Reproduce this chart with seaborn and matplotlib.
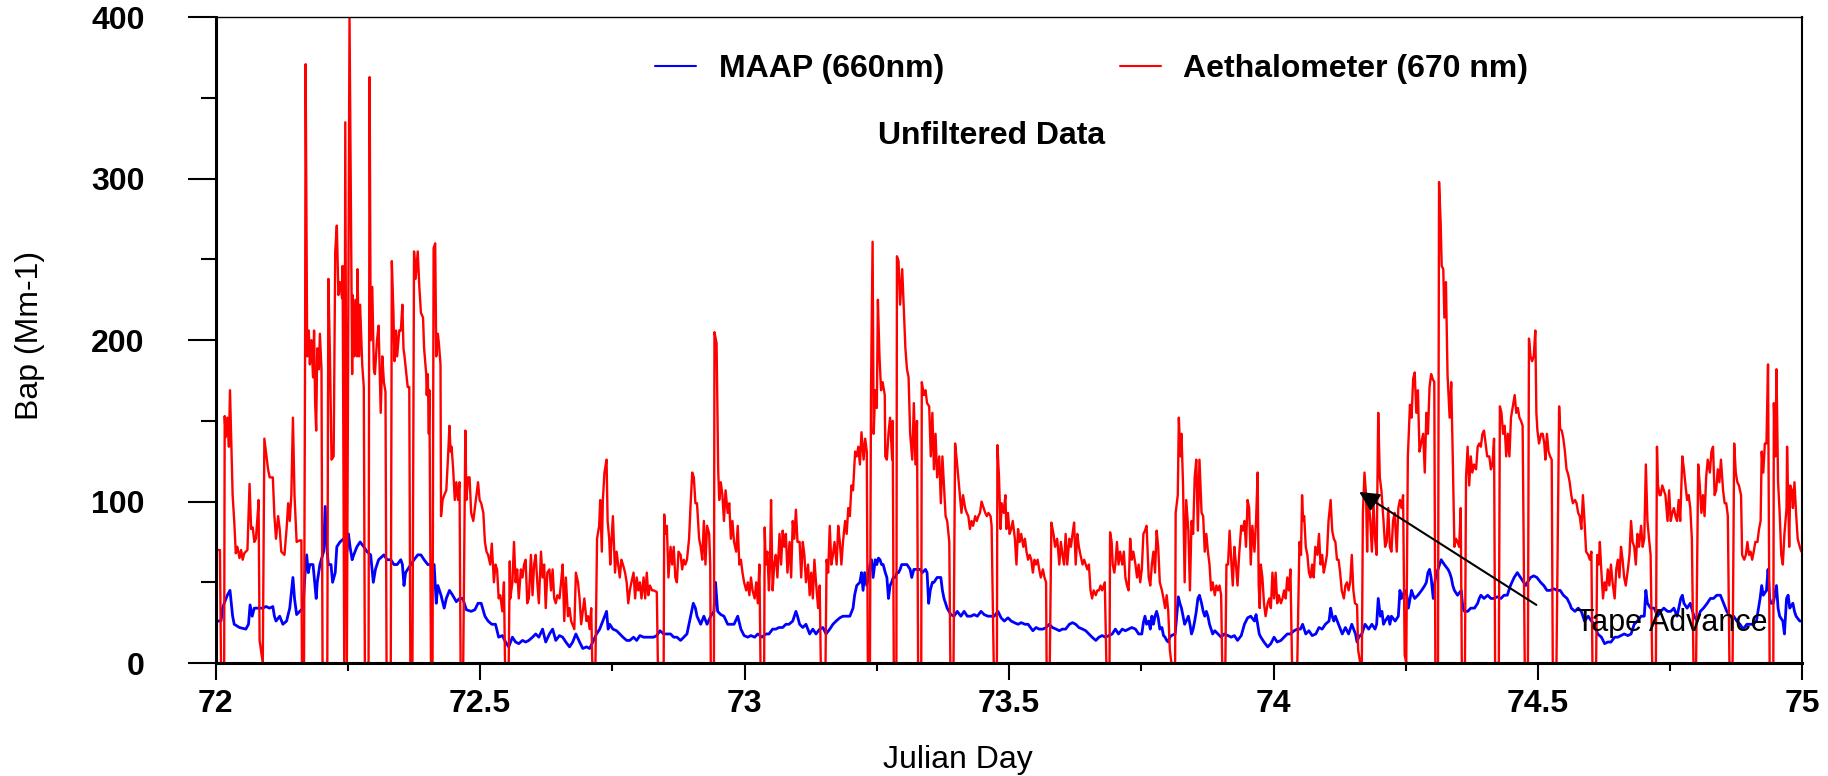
import matplotlib
matplotlib.use("Agg")
import matplotlib.pyplot as plt
from matplotlib.ticker import MultipleLocator
import pandas as pd
import seaborn as sns

# MAAP (660nm) absorption (Julian day, Mm-1)
maap_day = [
    72.001, 72.010, 72.013, 72.016, 72.022, 72.027, 72.032, 72.035, 72.045, 72.057,
    72.062, 72.065, 72.069, 72.073, 72.080, 72.089, 72.095, 72.102, 72.108, 72.111,
    72.114, 72.121, 72.127, 72.134, 72.140, 72.146, 72.149, 72.153, 72.165, 72.169,
    72.172, 72.175, 72.178, 72.184, 72.190, 72.192, 72.197, 72.204, 72.207, 72.210,
    72.213, 72.218, 72.221, 72.226, 72.229, 72.235, 72.242, 72.248, 72.251, 72.254,
    72.258, 72.261, 72.267, 72.273, 72.280, 72.286, 72.293, 72.298, 72.302, 72.308,
    72.318, 72.324, 72.331, 72.337, 72.343, 72.350, 72.353, 72.356, 72.359, 72.363,
    72.369, 72.375, 72.382, 72.388, 72.394, 72.401, 72.413, 72.417, 72.420, 72.426,
    72.432, 72.436, 72.442, 72.448, 72.455, 72.461, 72.467, 72.474, 72.483, 72.490,
    72.496, 72.502, 72.509, 72.515,
    72.522, 72.529, 72.535, 72.542, 72.548, 72.554, 72.561, 72.567, 72.573, 72.580,
    72.586, 72.592, 72.599, 72.605, 72.611, 72.618, 72.624, 72.631, 72.637, 72.643,
    72.650, 72.656, 72.662, 72.669, 72.675, 72.681, 72.688, 72.694, 72.701, 72.707,
    72.713, 72.720, 72.726, 72.732, 72.739, 72.742, 72.745, 72.751, 72.758, 72.764,
    72.770, 72.777, 72.783, 72.790, 72.796, 72.802, 72.809, 72.815, 72.821, 72.828,
    72.834, 72.840, 72.847, 72.853, 72.860, 72.866, 72.872, 72.879, 72.885, 72.891,
    72.898, 72.903, 72.907, 72.910, 72.917, 72.923, 72.929, 72.936, 72.942, 72.945,
    72.949, 72.955, 72.961, 72.968, 72.974, 72.980, 72.987, 72.993, 72.999, 73.006,
    73.012, 73.019, 73.025,
    73.033, 73.040, 73.046, 73.053, 73.059, 73.065, 73.072, 73.078, 73.084, 73.091,
    73.097, 73.100, 73.104, 73.110, 73.116, 73.123, 73.129, 73.135, 73.142, 73.148,
    73.154, 73.161, 73.167, 73.173, 73.180, 73.186, 73.193, 73.199, 73.205, 73.208,
    73.212, 73.218, 73.221, 73.224, 73.227, 73.231, 73.234, 73.237, 73.240, 73.243,
    73.247, 73.250, 73.253, 73.256, 73.259, 73.262, 73.266, 73.269, 73.272, 73.275,
    73.278, 73.281, 73.285, 73.288, 73.291, 73.294, 73.297, 73.301, 73.307, 73.313,
    73.316, 73.320, 73.326, 73.332, 73.336, 73.342, 73.345, 73.348, 73.351, 73.355,
    73.358, 73.364, 73.371, 73.374, 73.377, 73.383, 73.390, 73.396, 73.402, 73.409,
    73.415, 73.421, 73.428, 73.434, 73.440, 73.447, 73.453, 73.460, 73.466, 73.472,
    73.479, 73.485, 73.491, 73.498, 73.504, 73.510, 73.517, 73.523, 73.530, 73.536,
    73.545, 73.551, 73.557, 73.564, 73.570, 73.576, 73.582, 73.589, 73.595, 73.601,
    73.607, 73.614, 73.620, 73.626, 73.632, 73.639, 73.645, 73.651, 73.657, 73.664,
    73.670, 73.676, 73.682, 73.689, 73.695, 73.701, 73.707, 73.714, 73.720, 73.726,
    73.732, 73.739, 73.745, 73.751, 73.754, 73.757, 73.760, 73.764, 73.767, 73.770,
    73.773, 73.776, 73.779, 73.782, 73.785, 73.789, 73.792, 73.795, 73.798, 73.801,
    73.804, 73.807, 73.814, 73.817, 73.820, 73.823, 73.826, 73.829, 73.832, 73.835,
    73.839, 73.842, 73.845, 73.848, 73.851, 73.854, 73.857, 73.860, 73.864, 73.867,
    73.870, 73.873, 73.876, 73.879, 73.882, 73.885, 73.889, 73.895, 73.901, 73.907,
    73.914, 73.920, 73.926, 73.932, 73.939, 73.945, 73.951, 73.957, 73.964, 73.967,
    73.970, 73.973, 73.976, 73.982, 73.989, 73.995, 74.001, 74.007, 74.014, 74.020,
    74.026, 74.032, 74.039, 74.045, 74.051,
    74.055, 74.061, 74.067, 74.073, 74.080, 74.086, 74.092, 74.098, 74.105, 74.108,
    74.111, 74.114, 74.117, 74.123, 74.130, 74.136, 74.142, 74.148, 74.155, 74.158,
    74.161, 74.167, 74.173, 74.180, 74.186, 74.192, 74.195, 74.198, 74.202, 74.205,
    74.208, 74.211, 74.217, 74.220, 74.223, 74.230, 74.236, 74.239, 74.242, 74.248,
    74.252, 74.255, 74.261, 74.264, 74.267, 74.273, 74.280, 74.286, 74.289, 74.292,
    74.295, 74.298, 74.302, 74.305, 74.308, 74.311, 74.317, 74.323, 74.330, 74.333,
    74.336, 74.339, 74.342, 74.348, 74.355, 74.358, 74.361, 74.367, 74.373, 74.380,
    74.386, 74.389, 74.392, 74.398, 74.405, 74.411, 74.417, 74.423, 74.430, 74.436,
    74.442, 74.445, 74.448, 74.455, 74.461, 74.467, 74.473, 74.477, 74.480, 74.486,
    74.492, 74.498, 74.505, 74.511, 74.517, 74.523, 74.530, 74.536, 74.542, 74.548,
    74.555, 74.561,
    74.563, 74.570, 74.576, 74.582, 74.588, 74.595, 74.601, 74.607, 74.613, 74.620,
    74.626, 74.632, 74.638, 74.645, 74.651, 74.657, 74.663, 74.670, 74.676, 74.682,
    74.688, 74.695, 74.701, 74.704, 74.707, 74.713, 74.720, 74.726, 74.732, 74.738,
    74.745, 74.751, 74.757, 74.763, 74.770, 74.773, 74.776, 74.782, 74.788, 74.795,
    74.801, 74.807, 74.813, 74.820, 74.826, 74.832, 74.838, 74.845, 74.851, 74.857,
    74.863, 74.870, 74.876, 74.882, 74.888, 74.895, 74.901, 74.907, 74.913, 74.920,
    74.923, 74.926, 74.932, 74.935, 74.938, 74.941, 74.945, 74.951, 74.954, 74.957,
    74.963, 74.966, 74.970, 74.973, 74.976, 74.982, 74.985, 74.988, 74.995, 74.998,
]
maap_bap = [
    26, 26, 34, 37, 42, 45, 29, 24, 22, 21,
    24, 36, 29, 34, 34, 34, 35, 34, 35, 29,
    26, 29, 24, 26, 34, 53, 40, 30, 34, 56,
    67, 56, 61, 61, 40, 50, 61, 69, 97, 72,
    61, 61, 50, 56, 72, 75, 77, 69, 80, 72,
    64, 67, 72, 75, 72, 69, 67, 50, 58, 64,
    67, 64, 64, 61, 61, 64, 61, 48, 56, 58,
    61, 64, 67, 67, 64, 61, 61, 37, 48, 42,
    34, 40, 45, 42, 38, 40, 40, 33, 32, 33,
    37, 37, 29, 26,
    24, 24, 16, 17, 13, 10, 16, 13, 12, 14,
    13, 14, 16, 18, 16, 21, 13, 18, 21, 14,
    17, 16, 13, 10, 13, 18, 13, 9, 10, 9,
    13, 18, 21, 26, 32, 21, 24, 21, 20, 18,
    16, 14, 14, 16, 14, 17, 16, 16, 16, 16,
    17, 20, 18, 18, 18, 16, 16, 14, 16, 18,
    29, 37, 34, 29, 24, 29, 24, 29, 32, 50,
    32, 30, 29, 24, 24, 24, 29, 21, 17, 16,
    17, 16, 18,
    16, 18, 18, 21, 21, 22, 22, 24, 24, 26,
    32, 29, 24, 22, 24, 18, 21, 18, 21, 22,
    18, 21, 24, 26, 28, 29, 29, 29, 34, 42,
    48, 50, 56, 45, 56, 48, 53, 61, 64, 53,
    64, 61, 65, 64, 61, 61, 56, 53, 40, 48,
    50, 53, 53, 56, 56, 58, 61, 61, 61, 58,
    53, 58, 58, 58, 56, 58, 56, 37, 45, 50,
    50, 53, 53, 45, 40, 34, 30, 29, 32, 29,
    32, 29, 29, 30, 29, 32, 30, 29, 29, 29,
    32, 28, 26, 28, 26, 25, 24, 25, 24, 24,
    20, 22, 21, 21, 22, 24, 22, 21, 20, 21,
    21, 24, 25, 24, 22, 21, 20, 18, 16, 14,
    16, 17, 16, 17, 18, 21, 18, 21, 20, 21,
    22, 21, 18, 18, 25, 29, 24, 26, 21, 29,
    24, 29, 32, 28, 21, 22, 17, 16, 14, 13,
    16, 17, 18, 29, 41, 37, 34, 29, 24, 26,
    29, 24, 18, 21, 26, 32, 40, 42, 37, 32,
    29, 32, 29, 24, 21, 18, 20, 18, 16, 18,
    17, 16, 17, 14, 17, 24, 28, 29, 26, 30,
    24, 18, 16, 13, 10, 12, 16, 13, 14, 16,
    18, 18, 20, 21, 21,
    24, 18, 20, 17, 18, 22, 21, 24, 26, 34,
    29, 26, 29, 24, 18, 22, 18, 24, 18, 13,
    16, 18, 24, 21, 24, 21, 24, 40, 29, 32,
    24, 26, 29, 24, 29, 26, 29, 45, 40, 45,
    42, 34, 45, 42, 40, 42, 45, 48, 50, 56,
    58, 53, 40, 50, 56, 58, 64, 61, 58, 56,
    53, 48, 45, 42, 45, 34, 32, 32, 34, 34,
    37, 40, 42, 40, 42, 40, 40, 41, 40, 42,
    42, 45, 48, 53, 56, 53, 50, 48, 50, 53,
    54, 53, 50, 48, 45, 45, 46, 45, 45, 42,
    40, 36,
    34, 32, 34, 32, 26, 29, 26, 24, 18, 16,
    12, 13, 13, 16, 16, 17, 18, 17, 18, 24,
    26, 29, 29, 45, 37, 34, 34, 29, 32, 34,
    32, 32, 34, 29, 40, 42, 37, 34, 37, 29,
    26, 32, 34, 37, 40, 40, 42, 42, 37, 32,
    29, 29, 26, 24, 21, 24, 24, 24, 26, 40,
    48, 42, 45, 58, 40, 37, 37, 48, 34, 29,
    26, 18, 40, 42, 34, 37, 32, 29, 26, 26,
]

# Aethalometer (670 nm) absorption, zeros are the tape-advance dropouts
aeth_day = [
    72.001, 72.008, 72.010, 72.016, 72.017, 72.019, 72.022, 72.025, 72.027, 72.029,
    72.032, 72.035, 72.038, 72.041, 72.045, 72.048, 72.051, 72.054, 72.060, 72.064,
    72.067, 72.070, 72.073, 72.076, 72.080, 72.081, 72.083, 72.089, 72.092, 72.095,
    72.099, 72.102, 72.108, 72.111, 72.114, 72.118, 72.121, 72.124, 72.130, 72.134,
    72.137, 72.140, 72.143, 72.146, 72.149, 72.153, 72.159, 72.162, 72.163, 72.167,
    72.169, 72.170, 72.173, 72.176, 72.178, 72.181, 72.184, 72.186, 72.188, 72.190,
    72.192, 72.195, 72.197, 72.200, 72.202, 72.211, 72.213, 72.216, 72.219, 72.223,
    72.226, 72.229, 72.232, 72.235, 72.239, 72.240, 72.243, 72.245, 72.248, 72.253,
    72.256, 72.258, 72.259, 72.262, 72.264, 72.267, 72.268, 72.271, 72.273, 72.277,
    72.280, 72.282, 72.289, 72.291, 72.293, 72.296, 72.299, 72.301, 72.305, 72.308,
    72.312, 72.315, 72.318, 72.321, 72.323, 72.331, 72.333, 72.336, 72.338, 72.341,
    72.343, 72.347, 72.350, 72.353, 72.355, 72.357, 72.363, 72.366, 72.368, 72.372,
    72.375, 72.378, 72.382, 72.385, 72.388, 72.392, 72.394, 72.398, 72.399, 72.401,
    72.403, 72.404, 72.407, 72.410, 72.412, 72.415, 72.417, 72.420, 72.422, 72.425,
    72.426, 72.429, 72.432, 72.436, 72.439, 72.442, 72.444, 72.446, 72.449, 72.452,
    72.455, 72.458, 72.461, 72.463, 72.468, 72.472, 72.474, 72.477, 72.480, 72.483,
    72.487, 72.490, 72.493, 72.496, 72.499, 72.502, 72.506, 72.509, 72.512, 72.515,
    72.519, 72.522, 72.526, 72.529, 72.532, 72.535, 72.538, 72.542, 72.545, 72.547,
    72.554, 72.556, 72.557, 72.561, 72.564, 72.567, 72.570, 72.573, 72.577, 72.580,
    72.583, 72.586, 72.589, 72.592, 72.596, 72.599, 72.602, 72.605, 72.608, 72.611,
    72.615, 72.618, 72.621, 72.624, 72.627, 72.631, 72.634, 72.637, 72.640, 72.643,
    72.646, 72.650, 72.653, 72.656, 72.659, 72.662, 72.666, 72.669, 72.672, 72.678,
    72.681, 72.685, 72.688, 72.691, 72.694, 72.697, 72.701, 72.704, 72.707, 72.710,
    72.712, 72.718, 72.721, 72.725, 72.727, 72.730, 72.732, 72.735, 72.739, 72.741,
    72.744, 72.746, 72.748, 72.751, 72.755, 72.758, 72.761, 72.764, 72.767, 72.770,
    72.774, 72.777, 72.780, 72.783, 72.786, 72.790, 72.793, 72.796, 72.799, 72.802,
    72.805, 72.809, 72.812, 72.815, 72.818, 72.821, 72.825, 72.828, 72.834, 72.836,
    72.847, 72.848, 72.850, 72.853, 72.856, 72.860, 72.863, 72.866, 72.869, 72.872,
    72.875, 72.879, 72.882, 72.885, 72.888, 72.891, 72.895, 72.898, 72.901, 72.904,
    72.907, 72.910, 72.914, 72.917, 72.920, 72.923, 72.926, 72.929, 72.933, 72.935,
    72.936, 72.942, 72.943, 72.947, 72.950, 72.952, 72.955, 72.958, 72.961, 72.964,
    72.968, 72.971, 72.974, 72.977, 72.980, 72.984, 72.987, 72.990, 72.993, 72.996,
    72.999, 73.003, 73.006, 73.009, 73.012, 73.015, 73.019, 73.022, 73.025, 73.028,
    73.030,
    73.037, 73.038, 73.040, 73.043, 73.046, 73.048, 73.050, 73.053, 73.056, 73.059,
    73.062, 73.066, 73.069, 73.072, 73.075, 73.078, 73.081, 73.085, 73.088, 73.091,
    73.094, 73.097, 73.100, 73.104, 73.107, 73.110, 73.113, 73.116, 73.120, 73.123,
    73.126, 73.129, 73.132, 73.135, 73.139, 73.142, 73.144, 73.153, 73.155, 73.158,
    73.161, 73.164, 73.167, 73.170, 73.174, 73.177, 73.180, 73.183, 73.186, 73.190,
    73.193, 73.196, 73.199, 73.202, 73.205, 73.209, 73.212, 73.215, 73.218, 73.221,
    73.225, 73.228, 73.231, 73.233, 73.237, 73.239, 73.242, 73.244, 73.247, 73.250,
    73.252, 73.255, 73.258, 73.261, 73.265, 73.266, 73.269, 73.272, 73.275, 73.279,
    73.280, 73.282, 73.287, 73.288, 73.291, 73.294, 73.298, 73.301, 73.304, 73.307,
    73.310, 73.313, 73.317, 73.320, 73.323, 73.326, 73.328, 73.334, 73.335, 73.339,
    73.342, 73.345, 73.349, 73.352, 73.355, 73.358, 73.361, 73.364, 73.368, 73.371,
    73.374, 73.377, 73.380, 73.383, 73.387, 73.389, 73.395, 73.398, 73.401, 73.404,
    73.407, 73.410, 73.413, 73.417, 73.420, 73.423, 73.426, 73.429, 73.432, 73.436,
    73.439, 73.442, 73.445, 73.448, 73.452, 73.455, 73.458, 73.461, 73.465, 73.467,
    73.471, 73.477, 73.478, 73.481, 73.484, 73.486, 73.490, 73.493, 73.495, 73.498,
    73.501, 73.504, 73.507, 73.511, 73.514, 73.517, 73.520, 73.523, 73.527, 73.530,
    73.533, 73.536,
    73.539, 73.542, 73.545, 73.548, 73.551, 73.554, 73.557, 73.560, 73.564, 73.567,
    73.570, 73.571, 73.577, 73.580, 73.584, 73.587, 73.591, 73.595, 73.598, 73.601,
    73.604, 73.607, 73.610, 73.614, 73.617, 73.620, 73.623, 73.626, 73.629, 73.632,
    73.635, 73.639, 73.642, 73.645, 73.648, 73.651, 73.654, 73.657, 73.660, 73.664,
    73.667, 73.670, 73.673, 73.676, 73.681, 73.684, 73.690, 73.691, 73.694, 73.696,
    73.699, 73.701, 73.704, 73.707, 73.710, 73.714, 73.717, 73.720, 73.723, 73.726,
    73.729, 73.732, 73.735, 73.739, 73.742, 73.745, 73.748, 73.751, 73.754, 73.757,
    73.760, 73.764, 73.767, 73.770, 73.773, 73.776, 73.779, 73.782, 73.785, 73.789,
    73.792, 73.795, 73.798, 73.801, 73.804, 73.807, 73.814, 73.815, 73.819, 73.821,
    73.824, 73.826, 73.829, 73.832, 73.835, 73.839, 73.842, 73.845, 73.848, 73.851,
    73.854, 73.857, 73.860, 73.864, 73.867, 73.870, 73.873, 73.876, 73.879, 73.882,
    73.885, 73.889, 73.892, 73.895, 73.898, 73.901, 73.903, 73.909, 73.911, 73.914,
    73.917, 73.920, 73.923, 73.926, 73.929, 73.932, 73.935, 73.939, 73.942, 73.945,
    73.948, 73.951, 73.954, 73.957, 73.960, 73.964, 73.967, 73.970, 73.972, 73.974,
    73.976, 73.979, 73.982, 73.985, 73.989, 73.992, 73.995, 73.998, 74.001, 74.004,
    74.007, 74.010, 74.014, 74.017, 74.020, 74.023, 74.026, 74.029, 74.032, 74.035,
    74.045,
    74.049, 74.052, 74.054, 74.056, 74.058, 74.061, 74.064, 74.067, 74.070, 74.073,
    74.076, 74.079, 74.083, 74.086, 74.089, 74.092, 74.095, 74.098, 74.101, 74.104,
    74.108, 74.111, 74.114, 74.117, 74.120, 74.123, 74.126, 74.129, 74.133, 74.136,
    74.139, 74.142, 74.145, 74.148, 74.151, 74.154, 74.158, 74.160, 74.164, 74.167,
    74.169, 74.172, 74.175, 74.177, 74.179, 74.183, 74.186, 74.189, 74.192, 74.195,
    74.198, 74.201, 74.204, 74.208, 74.211, 74.214, 74.217, 74.220, 74.223, 74.226,
    74.229, 74.233, 74.236, 74.239, 74.242, 74.245, 74.248, 74.251, 74.254, 74.258,
    74.261, 74.264, 74.267, 74.270, 74.273, 74.276, 74.279, 74.283, 74.286, 74.289,
    74.292, 74.295, 74.298, 74.301, 74.304, 74.306, 74.311, 74.313, 74.316, 74.318,
    74.321, 74.323, 74.326, 74.329, 74.333, 74.336, 74.339, 74.342, 74.345, 74.348,
    74.351, 74.354, 74.356, 74.362, 74.364, 74.367, 74.370, 74.373, 74.376, 74.379,
    74.383, 74.386, 74.389, 74.392, 74.395, 74.398, 74.401, 74.404, 74.408, 74.411,
    74.414, 74.417, 74.419, 74.426, 74.428, 74.431, 74.434, 74.437, 74.440, 74.443,
    74.446, 74.449, 74.453, 74.456, 74.459, 74.462, 74.465, 74.468, 74.471, 74.475,
    74.481, 74.483, 74.486, 74.489, 74.492, 74.495, 74.497, 74.499, 74.502, 74.506,
    74.509, 74.512, 74.514, 74.517, 74.520, 74.523, 74.526, 74.528, 74.535,
    74.540, 74.542, 74.545, 74.548, 74.551, 74.554, 74.557, 74.560, 74.563, 74.566,
    74.570, 74.573, 74.576, 74.579, 74.582, 74.585, 74.588, 74.591, 74.595, 74.598,
    74.601, 74.603, 74.610, 74.612, 74.615, 74.617, 74.620, 74.623, 74.626, 74.629,
    74.632, 74.635, 74.638, 74.641, 74.645, 74.648, 74.651, 74.654, 74.657, 74.660,
    74.663, 74.666, 74.670, 74.673, 74.676, 74.679, 74.682, 74.685, 74.688, 74.691,
    74.695, 74.698, 74.701, 74.704, 74.707, 74.710, 74.713, 74.716, 74.723, 74.725,
    74.727, 74.730, 74.732, 74.735, 74.738, 74.741, 74.745, 74.748, 74.751, 74.754,
    74.757, 74.760, 74.763, 74.766, 74.769, 74.773, 74.776, 74.779, 74.782, 74.785,
    74.788, 74.791, 74.794, 74.799, 74.803, 74.806, 74.809, 74.812, 74.815, 74.818,
    74.821, 74.825, 74.828, 74.831, 74.834, 74.837, 74.840, 74.843, 74.846, 74.850,
    74.853, 74.856, 74.859, 74.862, 74.868, 74.871, 74.874, 74.877, 74.880, 74.884,
    74.886, 74.890, 74.893, 74.896, 74.899, 74.902, 74.905, 74.908, 74.911, 74.915,
    74.918, 74.921, 74.923, 74.926, 74.929, 74.932, 74.935, 74.938, 74.945, 74.946,
    74.949, 74.951, 74.954, 74.957, 74.960, 74.963, 74.966, 74.970, 74.971, 74.975,
    74.977, 74.980, 74.982, 74.985, 74.988, 74.991, 74.995, 74.998,
]
aeth_bap = [
    70, 70, 0, 0, 153, 140, 152, 134, 169, 144,
    104, 88, 68, 72, 65, 70, 64, 68, 70, 111,
    83, 84, 75, 77, 95, 101, 14, 0, 139, 131,
    120, 115, 115, 91, 77, 91, 83, 69, 67, 83,
    99, 88, 104, 152, 104, 75, 76, 76, 0, 0,
    195, 371, 190, 206, 185, 200, 177, 206, 161, 144,
    195, 182, 204, 182, 0, 0, 238, 190, 126, 128,
    255, 271, 228, 236, 226, 246, 0, 335, 0, 400,
    265, 179, 228, 190, 225, 190, 244, 190, 222, 185,
    171, 0, 0, 363, 200, 233, 182, 179, 200, 209,
    155, 190, 174, 168, 0, 0, 249, 217, 187, 206,
    190, 206, 206, 222, 195, 190, 171, 171, 0, 0,
    255, 238, 255, 233, 217, 214, 195, 179, 166, 179,
    142, 169, 0, 0, 257, 260, 190, 204, 198, 185,
    91, 101, 104, 107, 126, 147, 131, 134, 120, 101,
    112, 101, 112, 0, 0, 144, 101, 115, 115, 93,
    88, 96, 104, 112, 101, 99, 93, 75, 69, 67,
    61, 74, 50, 61, 58, 40, 42, 32, 50, 0,
    0, 63, 40, 50, 75, 50, 58, 40, 58, 53,
    61, 64, 37, 40, 67, 42, 61, 67, 50, 37,
    69, 53, 61, 34, 56, 58, 45, 58, 40, 37,
    42, 40, 50, 61, 26, 53, 29, 34, 26, 21,
    56, 50, 40, 24, 32, 40, 26, 29, 21, 34,
    0, 0, 77, 85, 101, 69, 101, 118, 126, 88,
    77, 61, 74, 91, 56, 69, 61, 53, 64, 61,
    56, 50, 37, 45, 50, 56, 40, 53, 45, 50,
    40, 53, 40, 56, 42, 48, 45, 45, 44, 0,
    0, 92, 80, 85, 53, 72, 61, 72, 53, 50,
    69, 67, 58, 64, 61, 64, 77, 99, 118, 115,
    99, 99, 77, 72, 64, 88, 61, 85, 80, 61,
    0, 0, 205, 198, 120, 101, 112, 104, 88, 107,
    93, 99, 77, 88, 75, 69, 85, 61, 64, 56,
    50, 45, 50, 42, 53, 45, 40, 50, 37, 61,
    0,
    0, 84, 61, 69, 45, 61, 101, 45, 61, 67,
    53, 80, 61, 82, 72, 80, 56, 75, 53, 88,
    77, 95, 75, 75, 53, 75, 67, 50, 61, 42,
    56, 40, 64, 50, 34, 48, 0, 0, 64, 56,
    85, 61, 67, 75, 61, 85, 75, 61, 75, 88,
    80, 96, 91, 110, 107, 131, 128, 134, 123, 143,
    126, 139, 131, 0, 0, 169, 261, 142, 169, 158,
    225, 190, 169, 174, 166, 128, 126, 142, 152, 126,
    150, 0, 0, 252, 249, 222, 244, 220, 195, 182,
    177, 142, 126, 161, 123, 150, 0, 0, 174, 166,
    169, 161, 159, 128, 155, 120, 142, 115, 128, 99,
    128, 110, 91, 88, 75, 0, 0, 136, 126, 115,
    104, 93, 104, 96, 93, 91, 83, 88, 85, 91,
    88, 91, 93, 100, 96, 93, 91, 93, 91, 85,
    0, 0, 135, 115, 83, 99, 93, 104, 83, 93,
    80, 83, 88, 77, 61, 83, 75, 80, 72, 77,
    69, 64,
    67, 64, 56, 64, 61, 64, 58, 53, 58, 53,
    50, 0, 0, 87, 80, 72, 77, 61, 75, 67,
    61, 80, 61, 77, 72, 80, 87, 61, 80, 72,
    67, 61, 64, 61, 58, 61, 45, 40, 45, 42,
    45, 45, 48, 45, 50, 0, 0, 81, 75, 61,
    56, 61, 75, 61, 69, 61, 69, 53, 48, 45,
    77, 64, 69, 61, 53, 61, 50, 58, 80, 82,
    85, 53, 48, 61, 69, 56, 82, 72, 50, 45,
    40, 34, 42, 32, 8, 0, 0, 93, 104, 152,
    128, 142, 110, 50, 101, 82, 45, 88, 80, 115,
    126, 82, 126, 93, 91, 69, 80, 69, 61, 45,
    50, 42, 48, 45, 48, 42, 0, 0, 61, 61,
    82, 64, 48, 72, 61, 48, 67, 85, 82, 88,
    72, 101, 96, 61, 85, 69, 88, 118, 48, 34,
    61, 53, 37, 29, 37, 40, 34, 56, 40, 56,
    37, 42, 37, 40, 45, 40, 53, 45, 58, 0,
    0,
    75, 67, 104, 88, 91, 72, 67, 56, 53, 61,
    53, 72, 67, 80, 61, 67, 56, 61, 67, 88,
    101, 82, 77, 75, 64, 64, 56, 45, 40, 48,
    50, 45, 50, 67, 45, 37, 36, 8, 0, 0,
    93, 118, 104, 69, 104, 88, 69, 99, 77, 67,
    155, 115, 107, 88, 72, 75, 96, 72, 69, 88,
    93, 69, 96, 101, 96, 104, 5, 0, 128, 160,
    152, 176, 180, 155, 169, 131, 136, 142, 118, 155,
    142, 171, 179, 176, 174, 0, 0, 298, 273, 246,
    244, 214, 236, 179, 152, 174, 126, 72, 77, 75,
    72, 96, 0, 0, 115, 134, 110, 128, 118, 123,
    120, 134, 136, 134, 142, 144, 136, 128, 128, 120,
    123, 139, 0, 0, 159, 155, 142, 147, 128, 142,
    128, 152, 160, 166, 155, 158, 152, 150, 147, 0,
    0, 201, 190, 187, 190, 206, 155, 144, 136, 142,
    142, 136, 126, 142, 131, 128, 126, 0, 0,
    159, 145, 144, 139, 131, 120, 117, 112, 104, 99,
    101, 99, 93, 91, 83, 104, 88, 69, 67, 64,
    69, 0, 0, 67, 61, 75, 56, 40, 50, 45,
    58, 48, 61, 50, 40, 58, 64, 53, 72, 64,
    53, 48, 58, 67, 88, 75, 72, 61, 80, 72,
    85, 72, 77, 123, 88, 77, 67, 0, 0, 134,
    110, 104, 104, 110, 107, 104, 88, 107, 88, 93,
    96, 91, 88, 101, 88, 128, 120, 110, 101, 104,
    96, 77, 0, 0, 123, 110, 93, 104, 91, 115,
    126, 118, 131, 134, 104, 107, 120, 112, 126, 107,
    99, 99, 91, 0, 0, 136, 118, 112, 110, 104,
    67, 64, 67, 75, 67, 69, 64, 69, 75, 75,
    83, 88, 131, 118, 136, 136, 185, 0, 0, 161,
    128, 182, 112, 93, 67, 61, 80, 96, 134, 72,
    110, 107, 96, 112, 93, 77, 72, 69,
]

series_labels = ["MAAP (660nm)", "Aethalometer (670 nm)"]
series_colors = ["#0000ff", "#ff0000"]

x_ticks = [72, 72.5, 73, 73.5, 74, 74.5, 75]
x_tick_labels = ["72", "72.5", "73", "73.5", "74", "74.5", "75"]
y_ticks = [0, 100, 200, 300, 400]

# tape advance annotation: arrow from tail to head (day, Mm-1)
arrow_tail = (74.497, 36)
arrow_head = (74.162, 106)

sns.set_style("ticks", rc={"axes.edgecolor": "black", "text.color": "black",
                           "axes.labelcolor": "black", "xtick.color": "black",
                           "ytick.color": "black"})
plt.rcParams["font.family"] = ["Liberation Sans", "DejaVu Sans"]

maap_df = pd.DataFrame({"day": maap_day, "bap": maap_bap})
aeth_df = pd.DataFrame({"day": aeth_day, "bap": aeth_bap})

fig = plt.figure(figsize=(18.28, 7.76), dpi=100)
ax = fig.add_axes([0.118, 0.1456, 0.868, 0.832])

# blue first so the red trace sits on top
sns.lineplot(data=maap_df, x="day", y="bap", color=series_colors[0], label=series_labels[0],
             estimator=None, sort=False, lw=2.0, ax=ax)
sns.lineplot(data=aeth_df, x="day", y="bap", color=series_colors[1], label=series_labels[1],
             estimator=None, sort=False, lw=1.7, ax=ax)

ax.set_xlim(72, 75)
ax.set_ylim(0, 400)
ax.set_xticks(x_ticks)
ax.set_xticklabels(x_tick_labels)
ax.set_yticks(y_ticks)
ax.xaxis.set_minor_locator(MultipleLocator(0.25))
ax.yaxis.set_minor_locator(MultipleLocator(50))

ax.tick_params(axis="y", which="major", direction="out", length=20, width=1.5, pad=31, labelsize=23)
ax.tick_params(axis="y", which="minor", direction="out", length=11, width=1.5)
ax.tick_params(axis="x", which="major", direction="out", length=12, width=1.5, pad=7, labelsize=23)
ax.tick_params(axis="x", which="minor", direction="out", length=6, width=1.5)
for lab in ax.get_xticklabels() + ax.get_yticklabels():
    lab.set_fontweight("bold")

# heavy left/bottom axes, thin box on the other sides
for side, lw in [("left", 2.2), ("bottom", 2.2), ("top", 1.0), ("right", 1.5)]:
    ax.spines[side].set_visible(True)
    ax.spines[side].set_linewidth(lw)
    ax.spines[side].set_color("black")

ax.set_xlabel("Julian Day", fontsize=23, va="center")
ax.xaxis.set_label_coords(0.468, -0.150)
ax.set_ylabel("Bap (Mm-1)", fontsize=23, va="center")
ax.yaxis.set_label_coords(-0.117, 0.508)

handles, labels = ax.get_legend_handles_labels()
leg = ax.legend(handles, labels, ncol=2, loc="center", bbox_to_anchor=(0.552, 0.9205),
                frameon=False, prop={"weight": "bold", "size": 23},
                handlelength=1.3, handletextpad=0.7, columnspacing=5.5)
for h in leg.get_lines():
    h.set_linewidth(1.5)

ax.text(0.489, 0.816, "Unfiltered Data", transform=ax.transAxes,
        ha="center", va="center", fontsize=23, fontweight="bold")

ax.annotate("", xy=arrow_head, xytext=arrow_tail,
            arrowprops=dict(arrowstyle="-|>", color="black", lw=1.5,
                            mutation_scale=30, shrinkA=0, shrinkB=0))
ax.text(74.572, 20, "Tape Advance", fontsize=22, ha="left", va="baseline")

fig.savefig("out.png", dpi=100)
